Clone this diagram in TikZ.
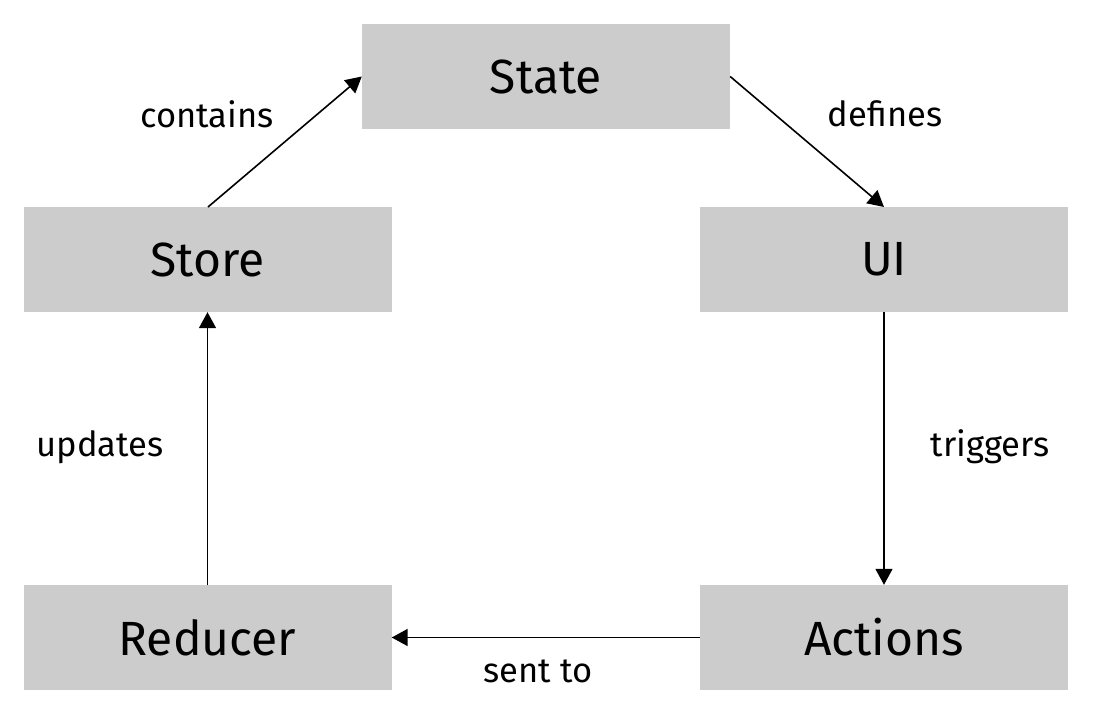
\documentclass[tikz,border=0pt]{standalone}
\usepackage{fontspec}
\setmainfont{Fira Sans}
\usetikzlibrary{arrows.meta}
\begin{document}
\begin{tikzpicture}[x=1pt,y=-1pt,
  box/.style={fill={rgb,255:red,204;green,204;blue,204}, minimum width=368pt, minimum height=105pt, inner sep=0pt, font=\fontsize{48}{54}\selectfont},
  lbl/.style={font=\fontsize{34.5}{40}\selectfont, inner sep=0pt},
  conn/.style={line width=1.6pt, -{Triangle[length=16pt,width=17pt]}}]
\useasboundingbox (0,0) rectangle (1093,715);
\node[box] (state) at (546,76.5) {State};
\node[box] (store) at (207.5,259.5) {Store};
\node[box] (ui) at (884,259.5) {UI};
\node[box] (reducer) at (207.5,637.5) {Reducer};
\node[box] (actions) at (884,637.5) {Actions};
\coordinate (storetop) at (208,207);
\coordinate (uitop) at (884,207);
\draw[conn] (storetop) -- (state.west);
\draw[conn] (state.east) -- (uitop);
\draw[conn] (ui.south) -- (actions.north);
\draw[conn] (actions.west) -- (reducer.east);
\draw[conn] (reducer.north) -- (store.south);
\node[lbl] (l1) at (207,114) {contains};
\node[lbl] (l2) at (885,114) {defines};
\node[lbl] (l3) at (990,447) {triggers};
\node[lbl] (l4) at (100,447) {updates};
\node[lbl] (l5) at (538,671) {sent to};
\end{tikzpicture}
\end{document}
